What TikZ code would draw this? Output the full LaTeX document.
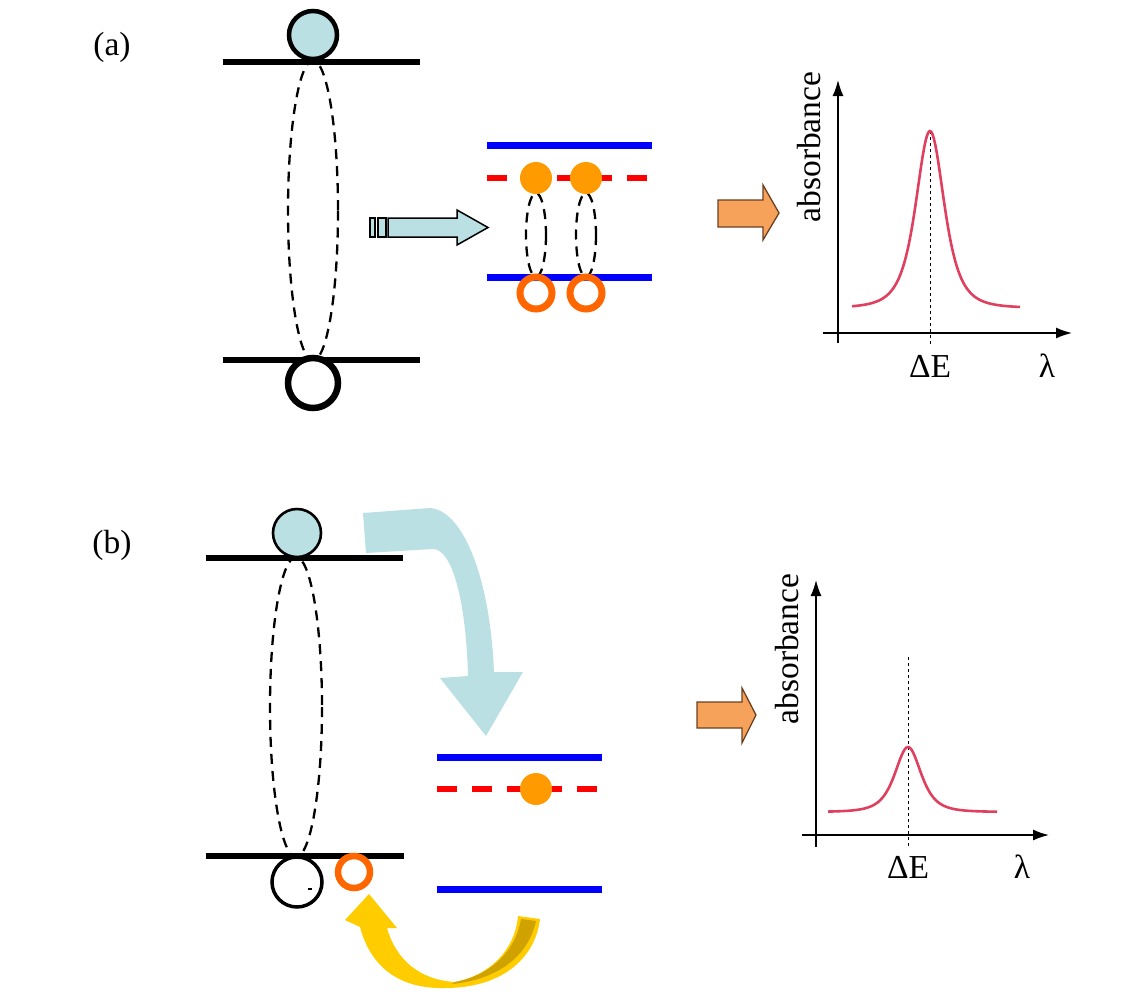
\documentclass[tikz,border=0pt]{standalone}
\usepackage{fontspec}
\setmainfont{Liberation Serif}
\usetikzlibrary{arrows.meta}
\definecolor{lblue}{HTML}{BBE0E3}
\definecolor{eblue}{HTML}{0000FF}
\definecolor{ered}{HTML}{FF0000}
\definecolor{dotor}{HTML}{FF9A00}
\definecolor{ringor}{HTML}{FF6600}
\definecolor{curvered}{HTML}{E0405F}
\definecolor{arrowor}{HTML}{F7A25A}
\definecolor{arrowedge}{HTML}{6A4020}
\definecolor{yel}{HTML}{FFCC00}
\definecolor{darkyel}{HTML}{CFA200}
\tikzset{
  blackline/.style={line width=6.5pt},
  blueline/.style={draw=eblue, line width=7pt},
  redline/.style={draw=ered, line width=6pt, dash pattern=on 20pt off 15pt},
  pairloop/.style={draw, line width=2.3pt, dash pattern=on 10pt off 7pt},
  electron/.style={circle, fill=dotor, inner sep=0pt, minimum size=32pt},
  hole/.style={circle, draw=ringor, line width=7pt, inner sep=0pt, minimum size=32pt},
  axisline/.style={line width=1.6pt, -{Latex[length=16pt,width=11pt]}},
  guide/.style={line width=1pt, dash pattern=on 3pt off 3pt},
  peak/.style={draw=curvered, line width=2.6pt},
  bigfont/.style={font=\fontsize{33.5}{40}\selectfont},
  fatarrow/.style={fill=arrowor, draw=arrowedge, line width=1.3pt, line join=miter},
}
\begin{document}
\begin{tikzpicture}[x=1pt,y=-1pt]
\useasboundingbox (0,0) rectangle (1145,991);

% ================= (a) =================
\node[bigfont] (labA) at (112,47) {(a)};

\draw[pairloop] (313,210.5) ellipse [x radius=25, y radius=150];
\draw[blackline] (223,62) -- (420,62);
\draw[blackline] (223,360) -- (420,360);
\node[circle, draw, fill=lblue, line width=4.5pt, inner sep=0pt, minimum size=48pt] (topA) at (313,35) {};
\node[circle, draw, fill=white, line width=6.5pt, inner sep=0pt, minimum size=50pt] (botA) at (313,383) {};

% small blue arrow
\draw[fill=lblue, line width=1.5pt] (370,218) rectangle (375,237);
\draw[fill=lblue, line width=1.5pt] (378,218) rectangle (386,237);
\draw[fill=lblue, line width=1.5pt, line join=miter] (388,218) -- (457,218) -- (457,210) -- (488,227.5) -- (457,245) -- (457,237) -- (388,237) -- cycle;

% levels
\draw[pairloop] (536,235) ellipse [x radius=10, y radius=42];
\draw[pairloop] (586,235) ellipse [x radius=10, y radius=42];
\draw[blueline] (487,145) -- (652,145);
\draw[redline] (487,178) -- (652,178);
\draw[blueline] (487,277) -- (652,277);
\node[electron] (eA1) at (536,178) {};
\node[electron] (eA2) at (586,178) {};
\node[hole] (hA1) at (536,293) {};
\node[hole] (hA2) at (586,293) {};

% orange arrow
\draw[fatarrow] (718,200) -- (763,200) -- (763,185) -- (779,213) -- (763,240) -- (763,227) -- (718,227) -- cycle;

% graph (a)
\draw[axisline] (838,343) -- (838,80);
\draw[axisline] (823,333) -- (1072,333);
\draw[guide] (930,131) -- (930,345);
\draw[peak] plot[domain=852:1020, samples=120] (\x, {308 - 177/((1+((\x-930)/26)^2)^2)});
\node[bigfont, rotate=90] (absA) at (809,147) {absorbance};
\node[bigfont] (dEA) at (930,366) {ΔE};
\node[bigfont] (lamA) at (1047,366) {λ};

% ================= (b) =================
\node[bigfont] (labB) at (112,545) {(b)};

\draw[pairloop] (296,707) ellipse [x radius=26, y radius=150];
\draw[blackline] (206,558) -- (403,558);
\draw[blackline] (206,856) -- (404,856);
\node[circle, draw, fill=lblue, line width=2.6pt, inner sep=0pt, minimum size=48pt] (topB) at (297,533) {};
\node[circle, draw, line width=3.5pt, inner sep=0pt, minimum size=50pt] (botB) at (297,882) {};
\draw[line width=1.3pt] (308,889) -- (312,889);
\node[hole, line width=6.5pt] (hB) at (354,872) {};

% big light-blue arrow
\fill[lblue] (363,513) -- (430,508) .. controls (462,510) and (490,575) .. (494,672)
  -- (523,672) -- (486,736) -- (440,678) -- (468,676)
  .. controls (466,600) and (452,549) .. (433,549) -- (366,553) -- cycle;

% levels (b)
\draw[blueline] (437,757) -- (602,757);
\draw[redline] (437,789) -- (602,789);
\draw[blueline] (437,889) -- (602,889);
\node[electron] (eB) at (536,789) {};

% yellow curved arrow
\fill[yel] (360,927) .. controls (372,972) and (405,989) .. (445,988)
  .. controls (500,988) and (535,960) .. (540,919) -- (518,916)
  .. controls (515,950) and (490,975) .. (455,982)
  .. controls (420,980) and (396,960) .. (387,928) -- (397,928) -- (369,894) -- (345,920) -- cycle;
\fill[darkyel] (452,984) .. controls (495,980) and (528,958) .. (536,921) -- (521,919)
  .. controls (516,950) and (492,975) .. (455,982) -- cycle;

% orange arrow (b)
\draw[fatarrow] (697,702) -- (742,702) -- (742,688) -- (756,715) -- (742,743) -- (742,728) -- (697,728) -- cycle;

% graph (b)
\draw[axisline] (816,847) -- (816,580);
\draw[axisline] (802,835) -- (1049,835);
\draw[guide] (908,657) -- (908,848);
\draw[peak] plot[domain=828:997, samples=120] (\x, {812 - 65/((1+((\x-908)/24)^2)^2)});
\node[bigfont, rotate=90] (absB) at (787,649) {absorbance};
\node[bigfont] (dEB) at (908,867) {ΔE};
\node[bigfont] (lamB) at (1022,867) {λ};
\end{tikzpicture}
\end{document}
